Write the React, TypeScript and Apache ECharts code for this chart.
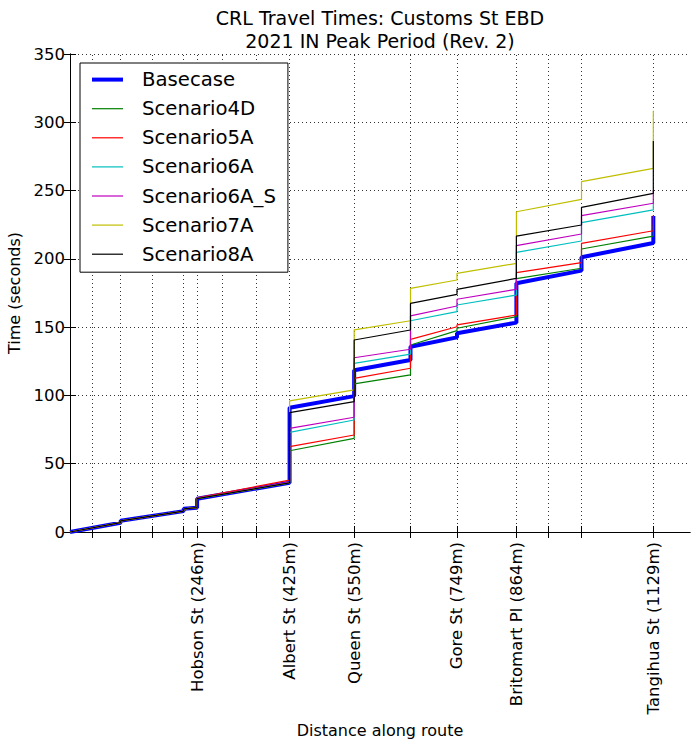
import React, { useEffect, useRef } from "react";
import * as echarts from "echarts";

const distances = [0, 98, 98, 220, 220, 246, 246, 425, 425, 550, 550, 659, 659, 749, 749, 864, 864, 990, 990, 1129, 1129];
const basecase = [0, 6.8, 8.2, 15.3, 17, 17.8, 24.4, 36, 91, 99.5, 118.5, 126, 135.7, 142.5, 145.5, 153.3, 182.1, 191.4, 201.2, 211.6, 231.4];
const scenario4D = [0, 6.8, 8.2, 15.3, 17, 17.8, 24.4, 36, 59.5, 68.6, 108.4, 115, 136.9, 147.4, 149.2, 157.7, 185.5, 193.1, 207.2, 216.7, 225];
const scenario5A = [0, 6.8, 8.2, 15.3, 17, 17.8, 25, 38, 62.5, 71, 112.5, 119.9, 141, 150.3, 151.6, 158.9, 189.9, 197.2, 211.4, 220.6, 232];
const scenario6A = [0, 6.8, 8.2, 15.3, 17, 17.8, 24.4, 36, 73, 82, 123.5, 130.3, 154.7, 161.3, 166.2, 173.5, 204.8, 213.1, 226.5, 235.8, 242];
const scenario6A_S = [0, 6.8, 8.2, 15.3, 17, 17.8, 24.6, 36.5, 75.9, 84, 127.6, 133.8, 158.2, 165.5, 170.4, 177.7, 209.7, 218.2, 231.6, 240.7, 250];
const scenario7A = [0, 6.8, 8.2, 15.3, 17, 17.8, 24.4, 36, 96, 104, 148, 154.7, 178.4, 184.5, 189.4, 196.7, 234.5, 243.5, 256.5, 266.3, 308.5];
const scenario8A = [0, 6.8, 8.2, 15.3, 17, 17.8, 24.4, 36, 87.4, 95.4, 140.6, 147.9, 167.4, 174, 177.7, 185.7, 216.7, 224.8, 237.7, 248, 286.3];

const seriesNames = ["Basecase", "Scenario4D", "Scenario5A", "Scenario6A", "Scenario6A_S", "Scenario7A", "Scenario8A"];
const seriesValues = [basecase, scenario4D, scenario5A, scenario6A, scenario6A_S, scenario7A, scenario8A];
const seriesColors = ["#0000ff", "#008000", "#ff0000", "#00bfbf", "#bf00bf", "#bfbf00", "#000000"];

const tickDistances = [43, 98, 160, 220, 246, 295, 361, 425, 550, 659, 749, 864, 925, 990, 1129];
const stationDistances = [246, 425, 550, 749, 864, 1129];
const stationNames = ["Hobson St", "Albert St", "Queen St", "Gore St", "Britomart Pl", "Tangihua St"];

const yTicks = [0, 50, 100, 150, 200, 250, 300, 350];

const FONT = "DejaVu Sans";

export default function App() {
  const ref = useRef<HTMLDivElement>(null);

  useEffect(() => {
    document.body.style.margin = "0";
    const chart = echarts.init(ref.current!, undefined, { renderer: "svg" });
    const axisLineStyle = { color: "#000", width: 1 };
    const gridStyle = { color: "#000", width: 0.8, type: [1, 3] as any };

    const series: any[] = seriesNames.map((name, si) => ({
      name,
      type: "line",
      symbol: "none",
      showSymbol: false,
      data: distances.map((d, i) => [d, seriesValues[si][i]]),
      lineStyle: { color: seriesColors[si], width: si === 0 ? 4 : 1.2 },
      itemStyle: { color: seriesColors[si] },
      z: 3 + si,
      silent: true,
    }));
    series[0].markLine = {
      silent: true,
      symbol: ["none", "none"],
      label: { show: false },
      lineStyle: gridStyle,
      animation: false,
      z: 1,
      data: tickDistances.map((v) => ({ xAxis: v })),
    };

    chart.setOption({
      animation: false,
      backgroundColor: "#fff",
      title: {
        text: "CRL Travel Times: Customs St EBD\n2021 IN Peak Period (Rev. 2)",
        left: 380,
        top: 6,
        padding: 0,
        textAlign: "center",
        textStyle: { fontFamily: FONT, fontSize: 19, fontWeight: "normal", color: "#000", lineHeight: 23 },
      },
      legend: {
        orient: "vertical",
        left: 80,
        top: 63,
        padding: [6.6, 12, 8, 12],
        itemWidth: 31,
        itemHeight: 14,
        itemGap: 9.1,
        backgroundColor: "#fff",
        borderColor: "#000",
        borderWidth: 1,
        borderRadius: 0,
        symbolKeepAspect: true,
        data: seriesNames.map((name, i) => ({
          name,
          icon: i === 0 ? "path://M0,0H31V4H0Z" : "path://M0,0H31V1.2H0Z",
        })),
        textStyle: { fontFamily: FONT, fontSize: 19.7, color: "#000", padding: [0, 0, 0, 14] },
      },
      grid: { left: 70, right: 9, top: 54, bottom: 214, containLabel: false, outerBoundsMode: "none" },
      xAxis: [
        {
          type: "value",
          min: 0,
          max: 1200,
          position: "bottom",
          name: "Distance along route",
          nameLocation: "middle",
          nameGap: 183,
          nameTextStyle: { fontFamily: FONT, fontSize: 16, color: "#000" },
          axisLine: { show: true, lineStyle: axisLineStyle },
          axisTick: { show: true, inside: true, length: 6, customValues: tickDistances, lineStyle: axisLineStyle },
          axisLabel: {
            show: true,
            customValues: stationDistances,
            rotate: 90,
            margin: 10,
            fontFamily: FONT,
            fontSize: 16.5,
            color: "#000",
            formatter: (v: number) => {
              const i = stationDistances.indexOf(v);
              return i >= 0 ? `${stationNames[i]} (${stationDistances[i]}m)` : "";
            },
          },
          splitLine: { show: false },
        },
        {
          type: "value",
          min: 0,
          max: 1200,
          position: "top",
          axisLine: { show: true, lineStyle: axisLineStyle },
          axisTick: { show: true, inside: true, length: 6, customValues: tickDistances, lineStyle: axisLineStyle },
          axisLabel: { show: false },
          splitLine: { show: false },
        },
      ],
      yAxis: [
        {
          type: "value",
          min: 0,
          max: 350,
          interval: 50,
          position: "left",
          name: "Time (seconds)",
          nameLocation: "middle",
          nameGap: 42,
          nameTextStyle: { fontFamily: FONT, fontSize: 16, color: "#000" },
          axisLine: { show: true, lineStyle: axisLineStyle },
          axisTick: { show: true, inside: true, length: 6, lineStyle: axisLineStyle },
          axisLabel: {
            fontFamily: FONT,
            fontSize: 16.5,
            color: "#000",
            margin: 5,
            formatter: (v: number) => (yTicks.indexOf(v) >= 0 ? String(v) : ""),
          },
          splitLine: { show: true, lineStyle: gridStyle },
        },
        {
          type: "value",
          min: 0,
          max: 350,
          interval: 50,
          position: "right",
          axisLine: { show: true, lineStyle: axisLineStyle },
          axisTick: { show: true, inside: true, length: 6, lineStyle: axisLineStyle },
          axisLabel: { show: false },
          splitLine: { show: false },
        },
      ],
      series,
    });
    return () => chart.dispose();
  }, []);

  return (
    <div
      ref={ref}
      style={{ position: "fixed", left: 0, top: 0, width: 699, height: 746 }}
    />
  );
}
